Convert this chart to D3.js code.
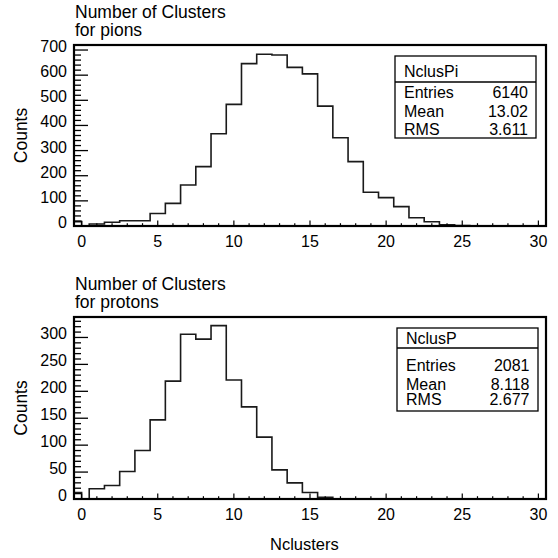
<!DOCTYPE html>
<html>
<head>
<meta charset="utf-8">
<script src="https://cdn.jsdelivr.net/npm/d3@7"></script>
<style>
  html, body { margin: 0; padding: 0; background: #fff; }
  svg { display: block; }
  text { font-family: "Liberation Sans", Arial, Helvetica, sans-serif; fill: #000; }
</style>
</head>
<body>
<svg id="chart" width="558" height="558"></svg>
<script>
// ---- data ----
const binCenters = [0,1,2,3,4,5,6,7,8,9,10,11,12,13,14,15,16,17,18,19,20,21,22,23,24,25,26,27,28,29,30];
const pionCounts = [0,8,15,21,21,50,90,163,236,367,484,646,683,680,631,605,477,351,256,134,113,77,33,17,5,2,0,0,0,0,0];
const pionFirstHalfBin = 17;   // small step drawn over [-0.5, 0]
const protonCounts = [0,19,25,51,90,147,219,306,297,322,221,171,115,54,30,12,3,0,0,0,0,0,0,0,0,0,0,0,0,0,0];
const protonFirstHalfBin = 12;

const xTicks = [0,5,10,15,20,25,30];
const pionYTicks = [0,100,200,300,400,500,600,700];
const protonYTicks = [0,50,100,150,200,250,300];

const pionTitle = ["Number of Clusters", "for pions"];
const protonTitle = ["Number of Clusters", "for protons"];
const pionStats = {name: "NclusPi", rows: [["Entries","6140"],["Mean","13.02"],["RMS","3.611"]]};
const protonStats = {name: "NclusP", rows: [["Entries","2081"],["Mean","8.118"],["RMS","2.677"]]};
const yTitle = "Counts";
const xTitle = "Nclusters";

// ---- drawing ----
const svg = d3.select("#chart");

function panel(cfg) {
  const {top, bottom, left, right, ymax, counts, firstHalf, yTicks, yMinorStep, xMinorStep, title, stats, box} = cfg;
  const x = d3.scaleLinear().domain([-0.5, 30.5]).range([left, right]);
  const y = d3.scaleLinear().domain([0, ymax]).range([bottom, top]);
  const g = svg.append("g");

  // title
  g.append("text").attr("x", left + 1).attr("y", top - 27.5).attr("font-size", 17.5).text(title[0]);
  g.append("text").attr("x", left + 1).attr("y", top - 9).attr("font-size", 17.5).text(title[1]);

  // histogram step line
  const pts = [{x: -0.5, y: firstHalf}];
  binCenters.forEach((c, i) => pts.push({x: i === 0 ? 0 : c - 0.5, y: counts[i]}));
  pts.push({x: 30.5, y: counts[counts.length - 1]});
  const line = d3.line().x(d => x(d.x)).y(d => y(d.y)).curve(d3.curveStepAfter);
  g.append("path").datum(pts).attr("d", line)
    .attr("fill", "none").attr("stroke", "#1a1a1a").attr("stroke-width", 1.6);

  // y ticks (inside, pointing right)
  const yMinor = d3.range(0, ymax + 0.001, yMinorStep);
  g.selectAll(".ymin").data(yMinor).join("line")
    .attr("x1", left).attr("x2", d => left + (yTicks.includes(d) ? 14 : 7))
    .attr("y1", d => y(d)).attr("y2", d => y(d))
    .attr("stroke", "#000").attr("stroke-width", 1.3);
  g.selectAll(".ylab").data(yTicks).join("text")
    .attr("x", left - 7).attr("y", d => y(d) + 2)
    .attr("text-anchor", "end").attr("font-size", 16).text(d => d);

  // x ticks (inside, pointing up)
  const xMinor = d3.range(0, 30.001, xMinorStep);
  g.selectAll(".xmin").data(xMinor).join("line")
    .attr("x1", d => x(d)).attr("x2", d => x(d))
    .attr("y1", bottom).attr("y2", d => bottom - (xTicks.includes(d) ? 5.5 : 2.8))
    .attr("stroke", "#000").attr("stroke-width", 1.2);
  g.selectAll(".xlab").data(xTicks).join("text")
    .attr("x", d => x(d)).attr("y", bottom + 20.5)
    .attr("text-anchor", "middle").attr("font-size", 16).text(d => d);

  // frame
  g.append("rect").attr("x", left).attr("y", top).attr("width", right - left).attr("height", bottom - top)
    .attr("fill", "none").attr("stroke", "#000").attr("stroke-width", 2.2);

  // y title
  g.append("text").attr("transform", `translate(${left - 47},${(top + bottom) / 2}) rotate(-90)`)
    .attr("text-anchor", "middle").attr("font-size", 17.5).text(yTitle);

  // stats box
  const sb = g.append("g");
  sb.append("rect").attr("x", box.x0).attr("y", box.y0).attr("width", box.x1 - box.x0).attr("height", box.y1 - box.y0)
    .attr("fill", "#fff").attr("stroke", "#000").attr("stroke-width", 1.3);
  sb.append("line").attr("x1", box.x0).attr("x2", box.x1).attr("y1", box.sep).attr("y2", box.sep)
    .attr("stroke", "#000").attr("stroke-width", 1.3);
  sb.append("text").attr("x", box.tx).attr("y", box.nameY).attr("font-size", 16).text(stats.name);
  stats.rows.forEach((r, i) => {
    sb.append("text").attr("x", box.tx).attr("y", box.rowY[i]).attr("font-size", 16).text(r[0]);
    sb.append("text").attr("x", box.vx).attr("y", box.rowY[i]).attr("font-size", 16)
      .attr("text-anchor", "end").text(r[1]);
  });
}

panel({
  top: 45, bottom: 226, left: 74, right: 546, ymax: 720,
  counts: pionCounts, firstHalf: pionFirstHalfBin, yTicks: pionYTicks, yMinorStep: 20, xMinorStep: 1,
  title: pionTitle, stats: pionStats,
  box: {x0: 395, x1: 536, y0: 56, y1: 138, sep: 82, tx: 404, vx: 528, nameY: 76.5, rowY: [98, 117, 135]}
});

panel({
  top: 317, bottom: 499, left: 74, right: 546, ymax: 338,
  counts: protonCounts, firstHalf: protonFirstHalfBin, yTicks: protonYTicks, yMinorStep: 10, xMinorStep: 1,
  title: protonTitle, stats: protonStats,
  box: {x0: 397, x1: 538, y0: 328, y1: 411, sep: 348, tx: 406, vx: 529.5, nameY: 344, rowY: [370.5, 389.5, 405]}
});

svg.append("text").attr("x", 270).attr("y", 550).attr("font-size", 16.5).text(xTitle);
</script>
</body>
</html>
